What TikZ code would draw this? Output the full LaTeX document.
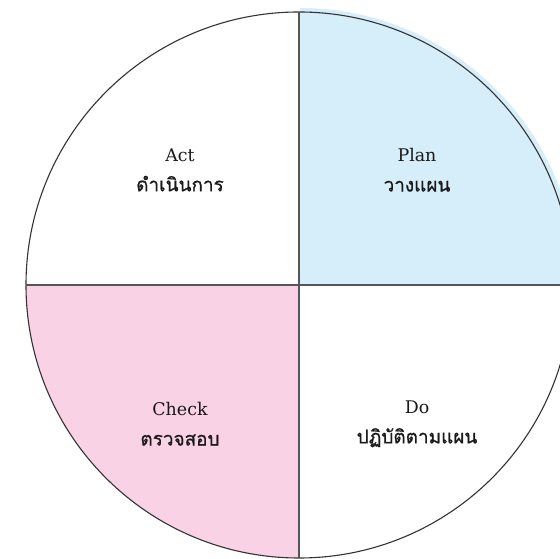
\documentclass[tikz,border=0pt]{standalone}
\usepackage{fontspec}
\setmainfont{DejaVu Serif}
\newfontfamily\thaifont[Script=Thai, FakeBold=0.8]{Loma}
\definecolor{planblue}{HTML}{D6EDFA}
\definecolor{checkpink}{HTML}{F9D3E5}
\definecolor{rimgray}{HTML}{333333}
\definecolor{crossgray}{HTML}{555555}

\begin{document}
\begin{tikzpicture}[x=1bp, y=1bp,
    quadlabel/.style={align=center, font=\fontsize{17.5}{30}\selectfont, text=black!90},
    rim/.style={draw=rimgray, line width=1.1bp},
    cross/.style={draw=crossgray, line width=1.7bp}]
            \useasboundingbox (0, 0) rectangle (560, 559);
            \coordinate (c) at (299, 274);
            \coordinate (top) at (299, 547);
            \coordinate (bottom) at (299, 1);
            \coordinate (left) at (26, 274);
            \coordinate (right) at (572, 274);

            % shaded quadrants
            \fill[planblue] (300, 274) -- (300, 551) arc[start angle=90, end angle=0, radius=277] -- cycle;
            \fill[checkpink] (c) -- (left) arc[start angle=180, end angle=270, radius=273] -- cycle;

            \draw[rim] (c) circle[radius=273];
            \draw[cross] (top) -- (bottom);
            \draw[cross] (left) -- (right);

            \node[quadlabel] (act) at (180, 389) {Act\\{\thaifont\fontsize{19}{30}\selectfont ดำเนินการ}};
            \node[quadlabel] (plan) at (417, 389) {Plan\\{\thaifont\fontsize{19}{30}\selectfont วางแผน}};
            \node[quadlabel] (check) at (180, 135) {Check\\{\thaifont\fontsize{19}{30}\selectfont ตรวจสอบ}};
            \node[quadlabel] (do) at (417, 135) {Do\\{\thaifont\fontsize{19}{30}\selectfont ปฏิบัติตามแผน}};
        \end{tikzpicture}
\end{document}
